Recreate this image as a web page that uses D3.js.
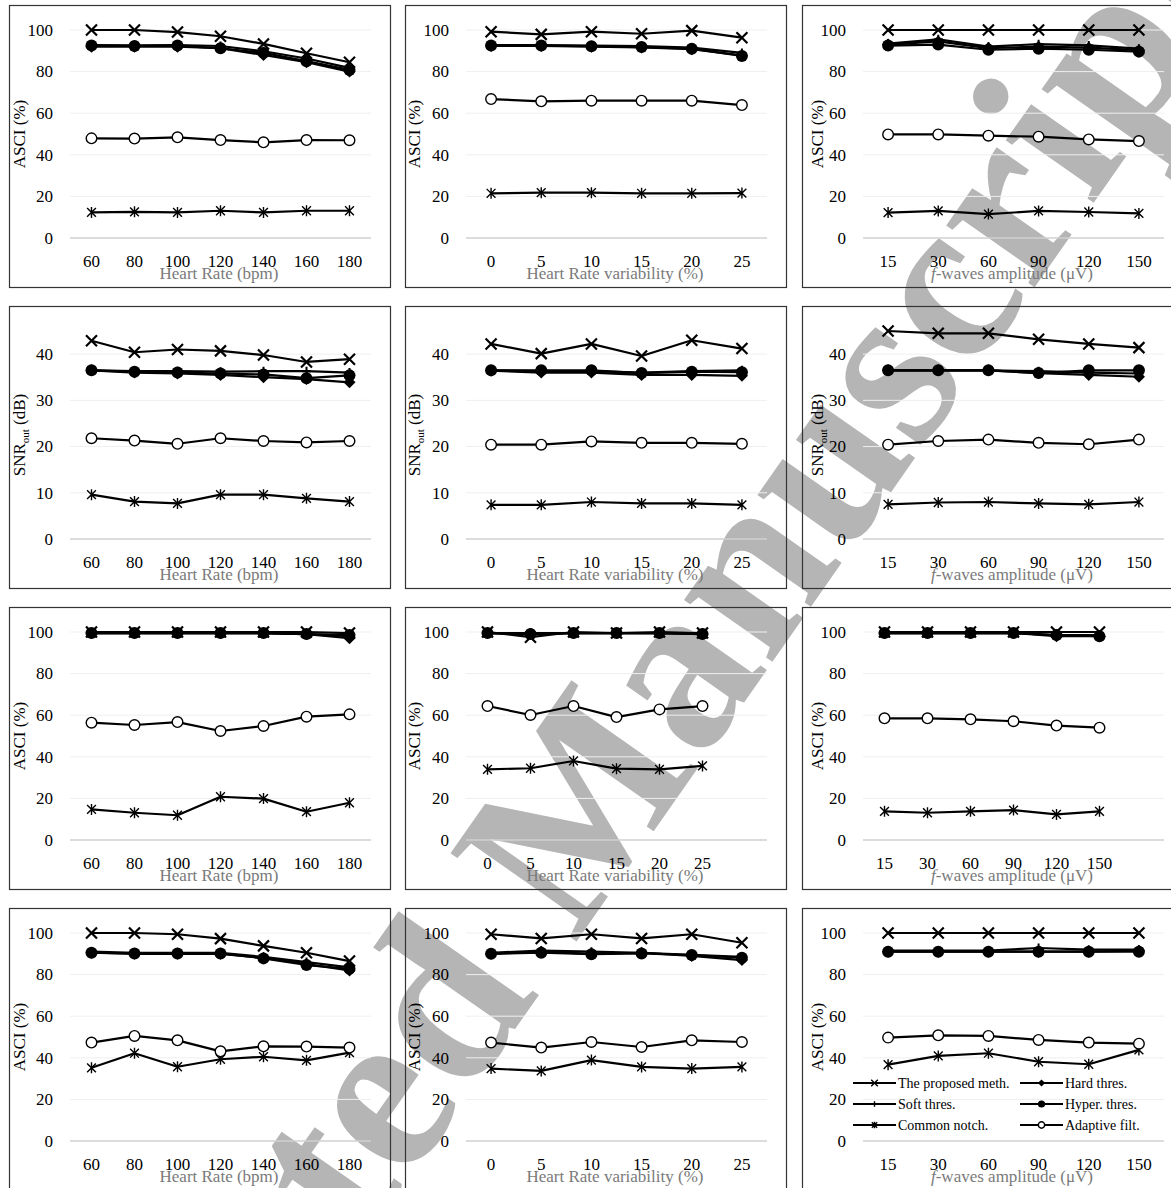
<!DOCTYPE html>
<html>
<head>
<meta charset="utf-8">
<script src="https://cdn.jsdelivr.net/npm/d3@7"></script>
<style>
body { margin: 0; background: #fff; }
svg { display: block; font-family: "Liberation Serif", "Times New Roman", serif; }
</style>
</head>
<body>
<div id="chart"></div>
<script>
// categories on the x axes
var hrCats = [60, 80, 100, 120, 140, 160, 180];
var hrvCats = [0, 5, 10, 15, 20, 25];
var fwCats = [15, 30, 60, 90, 120, 150];

// series order: proposed, hard, soft, hyper, notch, adaptive
var seriesNames = ["The proposed meth.", "Hard thres.", "Soft thres.", "Hyper. thres.", "Common notch.", "Adaptive filt."];

// row 1 - ASCI (%)
var asciHr1 = [
    [100, 100, 99, 97, 93.3, 88.8, 84.5],
    [92, 92, 92, 91.3, 88, 84.5, 80],
    [92.8, 92.6, 92.8, 92.3, 89.8, 86.3, 81.8],
    [92.5, 92.3, 92.5, 91.2, 89, 85, 80.8],
    [12.3, 12.6, 12.3, 13.1, 12.3, 13.1, 13.1],
    [47.9, 47.8, 48.4, 47.1, 46, 47.1, 47]
];
var asciHrv1 = [
    [99.2, 97.9, 99.2, 98.2, 99.7, 96.3],
    [92.3, 92.3, 92, 91.6, 90.8, 87.8],
    [92.8, 92.8, 92.5, 92.2, 91.5, 89],
    [92.5, 92.5, 92.2, 91.8, 91, 87.5],
    [21.5, 21.8, 21.8, 21.5, 21.5, 21.6],
    [66.8, 65.7, 66, 66, 66, 63.9]
];
var asciFw1 = [
    [100, 100, 100, 100, 100, 100],
    [93, 94.5, 91.3, 92, 91.5, 90.3],
    [93.5, 95.5, 92, 93.2, 92.6, 91],
    [92.5, 93, 90.5, 91, 90.5, 89.6],
    [12.2, 13, 11.5, 13, 12.5, 11.8],
    [49.8, 49.8, 49.2, 48.7, 47.4, 46.6]
];

// row 2 - SNRout (dB)
var snrHr = [
    [42.9, 40.4, 41, 40.7, 39.8, 38.3, 38.9],
    [36.5, 36, 35.8, 35.5, 35, 34.6, 33.9],
    [36.5, 36.3, 36.3, 36.2, 36.3, 36.3, 36],
    [36.5, 36.2, 36, 35.8, 35.6, 34.8, 35.4],
    [9.6, 8.1, 7.7, 9.6, 9.6, 8.8, 8.1],
    [21.8, 21.3, 20.6, 21.8, 21.2, 20.9, 21.2]
];
var snrHrv = [
    [42.2, 40.1, 42.2, 39.6, 43, 41.2],
    [36.4, 36, 36, 35.5, 35.5, 35.3],
    [36.5, 36.3, 36.3, 36, 36.3, 36.5],
    [36.5, 36.5, 36.5, 35.9, 36.2, 36.1],
    [7.4, 7.4, 8, 7.7, 7.7, 7.4],
    [20.4, 20.4, 21.1, 20.8, 20.8, 20.6]
];
var snrFw = [
    [45, 44.5, 44.5, 43.2, 42.2, 41.4],
    [36.5, 36.5, 36.5, 35.9, 35.5, 35.1],
    [36.5, 36.5, 36.5, 36.3, 36, 35.8],
    [36.5, 36.5, 36.5, 35.9, 36.5, 36.5],
    [7.5, 7.9, 8, 7.7, 7.5, 8],
    [20.4, 21.2, 21.5, 20.8, 20.5, 21.5]
];

// row 3 - ASCI (%)
var asciHr3 = [
    [100, 100, 100, 100, 100, 100, 99.5],
    [99.5, 99.5, 99.5, 99.5, 99.5, 99, 97],
    [99.5, 99.5, 99.5, 99.5, 99.5, 99, 98],
    [99.5, 99.5, 99.5, 99.5, 99.5, 99, 98.5],
    [14.7, 13.1, 11.9, 20.8, 19.9, 13.6, 17.9],
    [56.4, 55.3, 56.7, 52.4, 54.8, 59.3, 60.4]
];
var asciHrv3 = [
    [100, 97.5, 100, 99.5, 100, 99.5],
    [99.5, 99, 99.5, 99.5, 99.5, 99],
    [99.5, 99.5, 99.5, 99.5, 99.5, 99.5],
    [99.5, 99, 99.5, 99.5, 99.5, 99],
    [34, 34.5, 38, 34.3, 34, 35.6],
    [64.4, 60.1, 64.4, 59.1, 62.8, 64.4]
];
var asciFw3 = [
    [100, 100, 100, 100, 100, 100],
    [99.5, 99.5, 99.5, 99.5, 98, 98],
    [99.5, 99.5, 99.5, 99.5, 98.5, 98.5],
    [99.5, 99.5, 99.5, 99.5, 98.5, 98],
    [13.8, 13.1, 13.8, 14.4, 12.3, 13.8],
    [58.5, 58.5, 58, 57.1, 55, 54]
];

// row 4 - ASCI (%)
var asciHr4 = [
    [100, 100, 99.4, 97.3, 93.8, 90.5, 86.5],
    [90.5, 90, 90, 90, 88, 85, 82],
    [91, 90.5, 90.5, 90.5, 88.5, 86, 83.5],
    [90.5, 90.2, 90.2, 90.2, 87.8, 84.6, 82.8],
    [35.2, 42.2, 35.7, 39.3, 40.5, 38.8, 42.5],
    [47.3, 50.5, 48.4, 43.1, 45.5, 45.4, 44.9]
];
var asciHrv4 = [
    [99.4, 97.4, 99.4, 97.4, 99.4, 95.3],
    [90, 91, 90, 90.5, 89, 87],
    [90.5, 91.5, 91, 90.5, 89.5, 88.5],
    [90, 90.5, 89.8, 90.2, 89.4, 88.1],
    [34.8, 33.7, 38.9, 35.6, 34.8, 35.6],
    [47.3, 44.9, 47.6, 45.2, 48.4, 47.6]
];
var asciFw4 = [
    [100, 100, 100, 100, 100, 100],
    [91, 91, 91, 91, 91, 91.5],
    [91.5, 91.5, 91.5, 92.8, 92, 92],
    [91, 91, 91, 91, 91, 91],
    [36.7, 40.9, 42.2, 38.1, 36.9, 43.8],
    [49.7, 50.8, 50.5, 48.6, 47.3, 46.8]
];

var asciTicks = [0, 20, 40, 60, 80, 100];
var snrTicks = [0, 10, 20, 30, 40];

var W = 1171, H = 1188;
var colX = [9, 405, 802];
var rowY = [5, 306, 607, 908];
var boxW = 381, boxH = 282;
var plotL = 61, plotR = 362, plotT = 25, plotB = 233;
var yTitleX = [16, 15, 21];

var ascCfg = { yMax: 100, ticks: asciTicks, ylab: "ASCI" };
var snrCfg = { yMax: 45, ticks: snrTicks, ylab: "SNR" };
var hrCfg = { cats: hrCats, title: "hr" };
var hrvCfg = { cats: hrvCats, title: "hrv" };
var fwCfg = { cats: fwCats, title: "fw" };

var panels = [
    [hrCfg, ascCfg, asciHr1, 0], [hrvCfg, ascCfg, asciHrv1, 0], [fwCfg, ascCfg, asciFw1, 0],
    [hrCfg, snrCfg, snrHr, 0], [hrvCfg, snrCfg, snrHrv, 0], [fwCfg, snrCfg, snrFw, 0],
    [hrCfg, ascCfg, asciHr3, 0], [hrvCfg, ascCfg, asciHrv3, 1], [fwCfg, ascCfg, asciFw3, 1],
    [hrCfg, ascCfg, asciHr4, 0], [hrvCfg, ascCfg, asciHrv4, 0], [fwCfg, ascCfg, asciFw4, 0]
];

// marker paths
function crossPath(r) { return "M" + (-r) + "," + (-r) + "L" + r + "," + r + "M" + (-r) + "," + r + "L" + r + "," + (-r); }
function plusPath(r) { return "M" + (-r) + ",0L" + r + ",0M0," + (-r) + "L0," + r; }
function starPath(r) { return crossPath(r * 0.8) + "M0," + (-r) + "L0," + r; }
function diamondPath(r) { return "M0," + (-r) + "L" + r + ",0L0," + r + "L" + (-r) + ",0Z"; }
function circlePath(r) { return "M" + r + ",0A" + r + "," + r + " 0 1,1 " + (-r) + ",0A" + r + "," + r + " 0 1,1 " + r + ",0Z"; }

var markers = [
    { path: crossPath, r: 5.5, fill: "none", sw: 2.2 },
    { path: diamondPath, r: 6, fill: "#000", sw: 0 },
    { path: plusPath, r: 4.5, fill: "none", sw: 2 },
    { path: circlePath, r: 6, fill: "#000", sw: 0 },
    { path: starPath, r: 5.5, fill: "none", sw: 1.4 },
    { path: circlePath, r: 5.3, fill: "#fff", sw: 1.4 }
];

var svg = d3.select("#chart").append("svg")
    .attr("width", W)
    .attr("height", H);

svg.append("rect").attr("width", W).attr("height", H).attr("fill", "#fff");

// watermark behind the charts
svg.append("text")
    .attr("transform", "translate(9,1752) rotate(-55)")
    .attr("font-size", 235)
    .attr("font-weight", "bold")
    .attr("fill", "#b5b5b5")
    .text("Accepted Manuscript");

panels.forEach(function (p, i) {
    var xc = p[0], yc = p[1], data = p[2], extra = p[3];
    var col = i % 3, row = Math.floor(i / 3);
    var g = svg.append("g")
        .attr("transform", "translate(" + colX[col] + "," + rowY[row] + ")");

    var domain = xc.cats.map(String);
    if (extra) domain.push("pad");
    var x = d3.scalePoint().domain(domain).range([plotL, plotR]).padding(0.5);
    var y = d3.scaleLinear().domain([0, yc.yMax]).range([plotB, plotT]);

    // gridlines
    g.selectAll(".grid")
        .data(yc.ticks)
        .enter()
        .append("line")
        .attr("x1", plotL).attr("x2", plotR)
        .attr("y1", function (d) { return y(d); })
        .attr("y2", function (d) { return y(d); })
        .attr("stroke", function (d) { return d === 0 ? "#d0d0d0" : "#efefef"; })
        .attr("stroke-width", function (d) { return d === 0 ? 1.5 : 1; });

    // y tick labels
    g.selectAll(".ytick")
        .data(yc.ticks)
        .enter()
        .append("text")
        .attr("x", plotL - 17)
        .attr("y", function (d) { return y(d); })
        .attr("dy", "0.34em")
        .attr("text-anchor", "end")
        .attr("font-size", 17)
        .text(function (d) { return d; });

    // x tick labels
    g.selectAll(".xtick")
        .data(xc.cats)
        .enter()
        .append("text")
        .attr("x", function (d) { return x(String(d)); })
        .attr("y", plotB + 29)
        .attr("text-anchor", "middle")
        .attr("font-size", 17)
        .text(function (d) { return d; });

    // x title
    var xt = g.append("text")
        .attr("x", 210)
        .attr("y", plotB + 41)
        .attr("text-anchor", "middle")
        .attr("font-size", 17)
        .attr("fill", "#7a7a7a");
    if (xc.title === "hr") xt.text("Heart Rate (bpm)");
    else if (xc.title === "hrv") xt.text("Heart Rate variability (%)");
    else {
        xt.append("tspan").attr("font-style", "italic").text("f");
        xt.append("tspan").text("-waves amplitude (\u03BCV)");
    }

    // y title
    var yt = g.append("text")
        .attr("transform", "translate(" + yTitleX[col] + "," + ((plotT + plotB) / 2) + ") rotate(-90)")
        .attr("text-anchor", "middle")
        .attr("font-size", 17);
    if (yc.ylab === "ASCI") yt.text("ASCI (%)");
    else {
        yt.append("tspan").text("SNR");
        yt.append("tspan").attr("font-size", 11).attr("dy", 4).text("out");
        yt.append("tspan").attr("dy", -4).text(" (dB)");
    }

    // series lines and markers
    var line = d3.line()
        .x(function (d, j) { return x(String(xc.cats[j])); })
        .y(function (d) { return y(d); });

    data.forEach(function (vals, s) {
        g.append("path")
            .datum(vals)
            .attr("d", line)
            .attr("fill", "none")
            .attr("stroke", "#000")
            .attr("stroke-width", 2.2)
            .attr("stroke-linejoin", "round");
        var m = markers[s];
        g.selectAll(".m" + s)
            .data(vals)
            .enter()
            .append("path")
            .attr("transform", function (d, j) { return "translate(" + x(String(xc.cats[j])) + "," + y(d) + ")"; })
            .attr("d", m.path(m.r))
            .attr("fill", m.fill)
            .attr("stroke", "#000")
            .attr("stroke-width", m.sw);
    });

    // panel border
    g.append("rect")
        .attr("x", 0.5).attr("y", 0.5)
        .attr("width", boxW).attr("height", boxH)
        .attr("fill", "none")
        .attr("stroke", "#333")
        .attr("stroke-width", 1.2);

    // legend in the last panel
    if (i === 11) {
        var lg = g.append("g");
        seriesNames.forEach(function (name, s) {
            var lx = s % 2 === 0 ? 51 : 218;
            var ly = 175 + Math.floor(s / 2) * 21;
            lg.append("line")
                .attr("x1", lx).attr("x2", lx + 43)
                .attr("y1", ly).attr("y2", ly)
                .attr("stroke", "#000").attr("stroke-width", 2.2);
            var m = markers[s];
            lg.append("path")
                .attr("transform", "translate(" + (lx + 21.5) + "," + ly + ")")
                .attr("d", m.path(m.r * 0.6))
                .attr("fill", m.fill)
                .attr("stroke", "#000")
                .attr("stroke-width", m.sw ? 1.4 : 0);
            lg.append("text")
                .attr("x", lx + 45)
                .attr("y", ly)
                .attr("dy", "0.34em")
                .attr("font-size", 14)
                .text(name);
        });
    }
});
</script>
</body>
</html>
